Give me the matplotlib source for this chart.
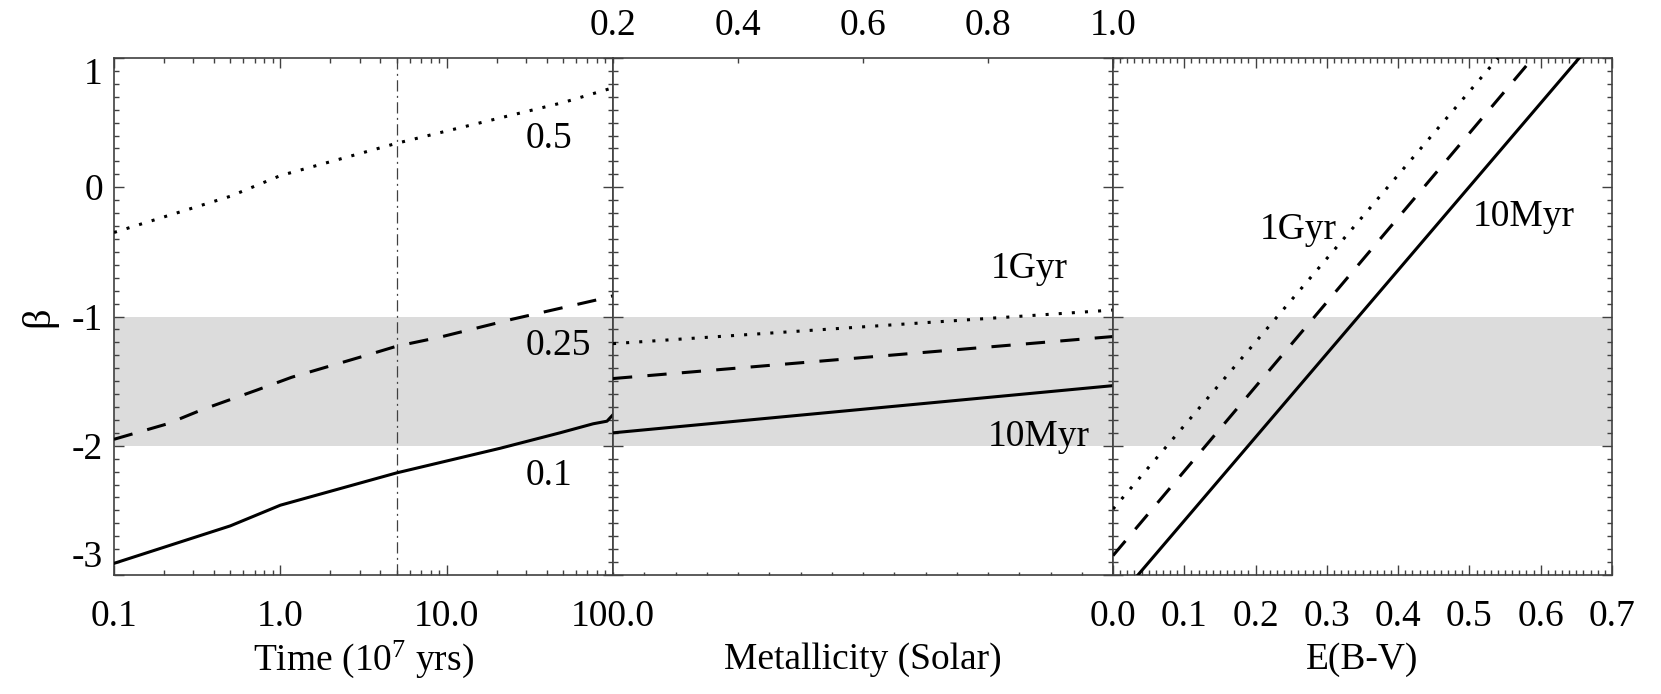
import matplotlib
matplotlib.use('Agg')
import matplotlib.pyplot as plt
from matplotlib.ticker import FixedLocator, MultipleLocator, NullFormatter, FixedFormatter, FormatStrFormatter

plt.rcParams['font.family'] = ['Liberation Serif', 'DejaVu Serif']
plt.rcParams['mathtext.fontset'] = 'custom'
plt.rcParams['mathtext.rm'] = 'Liberation Serif'
plt.rcParams['mathtext.it'] = 'Liberation Serif:italic'

# ---------------- data ----------------
# Left panel: beta vs time (10^7 yrs) for three E(B-V)
solid_time = [0.1, 0.5, 1.0, 5.0, 20.9, 48, 76, 92, 100]
solid_beta = [-2.91, -2.62, -2.46, -2.21, -2.02, -1.90, -1.83, -1.81, -1.76]
dashed_time = [0.1, 0.21, 0.34, 0.72, 1.17, 3.3, 5.0, 9.1, 25, 87.5, 100]
dashed_beta = [-1.95, -1.83, -1.72, -1.57, -1.47, -1.30, -1.23, -1.16, -1.02, -0.86, -0.84]
dotted_time = [0.1, 0.5, 1.0, 5.0, 20, 50, 100]
dotted_beta = [-0.35, -0.07, 0.09, 0.34, 0.53, 0.655, 0.77]
time_marker = 5.0
left_labels = ['0.5', '0.25', '0.1']
left_label_x = [30, 30, 30]
left_label_y = [0.30, -1.30, -2.30]

# Middle panel: beta vs metallicity
metal = [0.2, 1.0]
metal_dotted = [-1.21, -0.95]
metal_dashed = [-1.48, -1.155]
metal_solid = [-1.90, -1.535]
mid_labels = ['1Gyr', '10Myr']
mid_label_x = [0.805, 0.80]
mid_label_y = [-0.70, -2.0]

# Right panel: beta vs E(B-V)
ebv_dotted = [0.0, 0.54]
beta_dotted = [-2.49, 1.0]
ebv_dashed = [0.0, 0.589]
beta_dashed = [-2.85, 1.0]
ebv_solid = [0.035, 0.654]
beta_solid = [-3.0, 1.0]
right_labels = ['1Gyr', '10Myr']
right_label_x = [0.206, 0.505]
right_label_y = [-0.40, -0.30]

# y axis
y_ticks = [-3, -2, -1, 0, 1]
y_ticklabels = ['-3', '-2', '-1', '0', '1']
band = (-2, -1)

# ---------------- styling ----------------
FS = 27
LW = 2.2
DOT = (0, (1, 3.3))
DASH = (0, (6.3, 5.0))
AXC = '#404040'
BAND_C = '#dcdcdc'

fig = plt.figure(figsize=(16.61, 6.94), dpi=100)
W, H = 1661, 694
top_px, bot_px = 58, 575
def rect(l, r):
    return [l / W, 1 - bot_px / H, (r - l) / W, (bot_px - top_px) / H]

axL = fig.add_axes(rect(114, 613))
axM = fig.add_axes(rect(613, 1113))
axR = fig.add_axes(rect(1113, 1612))

for ax in (axL, axM, axR):
    ax.set_ylim(-3, 1)
    ax.axhspan(band[0], band[1], color=BAND_C, lw=0, zorder=0)
    for s in ax.spines.values():
        s.set_color(AXC)
        s.set_linewidth(1.2)
    ax.yaxis.set_major_locator(FixedLocator(y_ticks))
    ax.yaxis.set_minor_locator(MultipleLocator(0.1))
    ax.tick_params(axis='y', which='major', direction='in', length=7.2, width=1.0,
                   color=AXC, left=True, right=True, labelsize=FS, pad=8)
    ax.tick_params(axis='y', which='minor', direction='in', length=3.6, width=1.0,
                   color=AXC, left=True, right=True)

# ---- left panel ----
axL.set_xscale('log')
axL.set_xlim(0.1, 100)
axL.plot(solid_time, solid_beta, color='black', lw=LW, solid_joinstyle='round', zorder=3)
axL.plot(dashed_time, dashed_beta, color='black', lw=LW, ls=DASH, zorder=3)
axL.plot(dotted_time, dotted_beta, color='black', lw=LW, ls=DOT, zorder=3)
axL.axvline(time_marker, color='#404040', lw=0.9, ls=(0, (9, 3.5, 1.6, 3.5)), zorder=2)
axL.xaxis.set_major_locator(FixedLocator([0.1, 1, 10, 100]))
axL.xaxis.set_major_formatter(FixedFormatter(['0.1', '1.0', '10.0', '100.0']))
axL.xaxis.set_minor_locator(FixedLocator([m * d for d in (0.1, 1, 10) for m in range(2, 10)]))
axL.xaxis.set_minor_formatter(NullFormatter())
axL.tick_params(axis='x', which='major', direction='in', length=7.2, width=1.0, color=AXC,
                top=True, bottom=True, labelsize=FS, pad=18)
axL.tick_params(axis='x', which='minor', direction='in', length=3.6, width=1.0, color=AXC,
                top=True, bottom=True)
axL.set_yticklabels(y_ticklabels)
axL.set_ylabel('β', fontsize=FS + 2)
axL.yaxis.set_label_coords(-0.15, 0.5)
axL.yaxis.label.set_va('center')
axL.set_xlabel('Time (10$^{7}$ yrs)', fontsize=FS)
axL.xaxis.set_label_coords(0.5, -0.164)
axL.xaxis.label.set_va('center')
for t, x, y in zip(left_labels, left_label_x, left_label_y):
    axL.text(x, y, t, fontsize=FS, ha='left', va='baseline', zorder=4)

yt = axL.yaxis.get_major_ticks()
for i, tk in enumerate(yt):
    if i == 0:
        tk.label1.set_va('bottom')
    elif i == len(yt) - 1:
        tk.label1.set_va('top')
    else:
        tk.label1.set_va('center_baseline')

# ---- middle panel ----
axM.set_xlim(0.2, 1.0)
axM.plot(metal, metal_solid, color='black', lw=LW, zorder=3)
axM.plot(metal, metal_dashed, color='black', lw=LW, ls=DASH, zorder=3)
axM.plot(metal, metal_dotted, color='black', lw=LW, ls=DOT, zorder=3)
axM.xaxis.set_major_locator(MultipleLocator(0.05))
axM.tick_params(axis='x', which='major', direction='in', length=2.0, width=1.0, color=AXC,
                top=False, bottom=True, labelbottom=False)
axM.tick_params(axis='y', labelleft=False)
axM.set_xlabel('Metallicity (Solar)', fontsize=FS)
axM.xaxis.set_label_coords(0.5, -0.164)
axM.xaxis.label.set_va('center')
axMt = axM.twiny()
axMt.set_xlim(0.2, 1.0)
axMt.xaxis.set_major_locator(FixedLocator([0.2, 0.4, 0.6, 0.8, 1.0]))
axMt.xaxis.set_major_formatter(FormatStrFormatter('%.1f'))
axMt.tick_params(axis='x', which='major', direction='in', length=3.6, width=1.0, color=AXC,
                 top=True, labeltop=True, labelsize=FS, pad=11)
for s in axMt.spines.values():
    s.set_visible(False)
for t, x, y in zip(mid_labels, mid_label_x, mid_label_y):
    axM.text(x, y, t, fontsize=FS, ha='left', va='baseline', zorder=4)

# ---- right panel ----
axR.set_xlim(0.0, 0.7)
axR.plot(ebv_solid, beta_solid, color='black', lw=LW, zorder=3)
axR.plot(ebv_dashed, beta_dashed, color='black', lw=LW, ls=DASH, zorder=3)
axR.plot(ebv_dotted, beta_dotted, color='black', lw=LW, ls=DOT, zorder=3)
axR.xaxis.set_major_locator(MultipleLocator(0.1))
axR.xaxis.set_minor_locator(MultipleLocator(0.01))
axR.xaxis.set_major_formatter(FormatStrFormatter('%.1f'))
axR.tick_params(axis='x', which='major', direction='in', length=7.2, width=1.0, color=AXC,
                top=True, bottom=True, labelsize=FS, pad=18)
axR.tick_params(axis='x', which='minor', direction='in', length=3.6, width=1.0, color=AXC,
                top=True, bottom=True)
axR.tick_params(axis='y', labelleft=False)
axR.set_xlabel('E(B-V)', fontsize=FS)
axR.xaxis.set_label_coords(0.5, -0.164)
axR.xaxis.label.set_va('center')
for t, x, y in zip(right_labels, right_label_x, right_label_y):
    axR.text(x, y, t, fontsize=FS, ha='left', va='baseline', zorder=4)

fig.savefig('out.png', dpi=100)
